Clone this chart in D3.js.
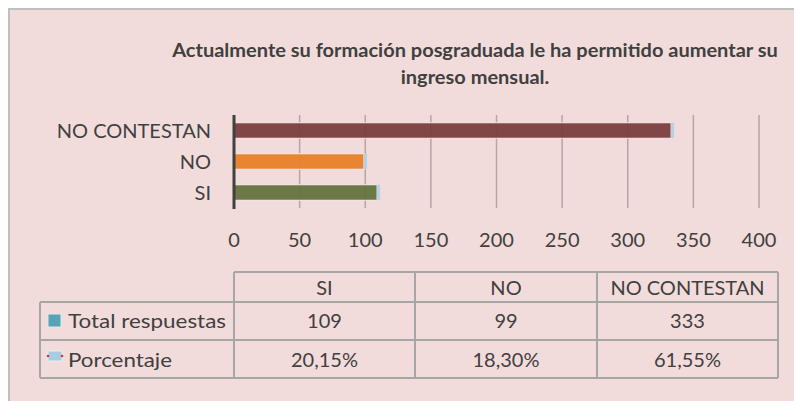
<!DOCTYPE html>
<html>
<meta charset="utf-8">
<title>Ingreso mensual</title>
<style>
  body { margin: 0; background: #fff; }
  svg text { font-family: Lato, "Open Sans", sans-serif; fill: #404040; }
  .grid line { stroke: #b8a4a5; stroke-width: 1.5; }
</style>
<body>
<div id="chart"></div>
<script src="https://cdnjs.cloudflare.com/ajax/libs/d3/7.8.5/d3.min.js"></script>
<script>
// data
var categories = ["SI", "NO", "NO CONTESTAN"];
var totals = [109, 99, 333];
var percents = [20.15, 18.30, 61.55];
var pctLabels = ["20,15%", "18,30%", "61,55%"];
var seriesNames = ["Total respuestas", "Porcentaje"];
var barColors = ["#667340", "#e8812b", "#7b3f3f"];
var xTicks = [0, 50, 100, 150, 200, 250, 300, 350, 400];

var width = 794, height = 401;

var svg = d3.select("#chart").append("svg")
    .attr("width", width)
    .attr("height", height);

// panel background + border
svg.append("rect")
    .attr("x", 9).attr("y", 9)
    .attr("width", 800).attr("height", 400)
    .style("fill", "#f2dcdb")
    .style("stroke", "#bfbfbf")
    .style("stroke-width", 2);

// title: narrow it horizontally so the first line spans ~606px like the original
var titleG = svg.append("g");
var title = titleG.append("text")
    .attr("text-anchor", "middle")
    .style("font-weight", "bold")
    .style("font-size", "19px");
var line1 = title.append("tspan")
    .attr("x", 0).attr("y", 57)
    .text("Actualmente su formación posgraduada le ha permitido aumentar su");
title.append("tspan")
    .attr("x", 0).attr("y", 84)
    .text("ingreso mensual.");
var sx = 606 / line1.node().getComputedTextLength();
titleG.attr("transform", "translate(475,0) scale(" + sx + ",1)");

var x = d3.scaleLinear().domain([0, 400]).range([234, 759]);
var y = d3.scaleBand()
    .domain(categories.slice().reverse())
    .range([115, 208])
    .paddingInner(0.5)
    .paddingOuter(0.25);

// gridlines
svg.append("g").attr("class", "grid")
  .selectAll("line")
    .data(xTicks.slice(1))
  .enter().append("line")
    .attr("x1", function(d) { return x(d); })
    .attr("x2", function(d) { return x(d); })
    .attr("y1", 115).attr("y2", 208);

// bars
var bars = svg.append("g");
categories.forEach(function(c, i) {
  bars.append("rect")
      .attr("x", x(0))
      .attr("y", y(c))
      .attr("width", x(totals[i]) - x(0))
      .attr("height", y.bandwidth())
      .style("fill", barColors[i])
      .style("opacity", 0.95)
      .style("stroke", "#fbeeee")
      .style("stroke-width", 1);
  // percentage series is tiny next to the totals, drawn as a thin cap
  bars.append("rect")
      .attr("x", x(totals[i]))
      .attr("y", y(c))
      .attr("width", Math.max(3, x(percents[i] / 100) - x(0)))
      .attr("height", y.bandwidth())
      .style("fill", "#b4d2e6");
});

// category axis
svg.append("line")
    .attr("x1", x(0)).attr("x2", x(0))
    .attr("y1", 115).attr("y2", 209)
    .style("stroke", "#404040")
    .style("stroke-width", 3);

svg.append("g").selectAll("text")
    .data(categories)
  .enter().append("text")
    .attr("x", 211)
    .attr("y", function(d) { return y(d) + y.bandwidth() / 2 + 7.5; })
    .attr("text-anchor", "end")
    .style("font-size", "20px")
    .text(function(d) { return d; });

// value axis labels
svg.append("g").selectAll("text")
    .data(xTicks)
  .enter().append("text")
    .attr("x", function(d) { return x(d); })
    .attr("y", 247)
    .attr("text-anchor", "middle")
    .style("font-size", "20px")
    .text(function(d) { return d; });

// data table
var colEdges = [40, 234, 415, 597, 778];
var rowEdges = [272, 302, 340, 378];
var tbl = svg.append("g")
    .style("stroke", "#a6a6a6")
    .style("stroke-width", 2);

tbl.append("line").attr("x1", colEdges[1]).attr("x2", colEdges[4]).attr("y1", rowEdges[0]).attr("y2", rowEdges[0]);
[1, 2, 3].forEach(function(r) {
  tbl.append("line").attr("x1", colEdges[0]).attr("x2", colEdges[4]).attr("y1", rowEdges[r]).attr("y2", rowEdges[r]);
});
tbl.append("line").attr("x1", colEdges[0]).attr("x2", colEdges[0]).attr("y1", rowEdges[1]).attr("y2", rowEdges[3]);
[1, 2, 3, 4].forEach(function(c) {
  tbl.append("line").attr("x1", colEdges[c]).attr("x2", colEdges[c]).attr("y1", rowEdges[0]).attr("y2", rowEdges[3]);
});

var cellText = svg.append("g").style("font-size", "20px").attr("text-anchor", "middle");
categories.forEach(function(c, i) {
  var cx = (colEdges[i + 1] + colEdges[i + 2]) / 2;
  cellText.append("text").attr("x", cx).attr("y", 295).text(c);
  cellText.append("text").attr("x", cx).attr("y", 328).text(totals[i]);
  cellText.append("text").attr("x", cx).attr("y", 367).text(pctLabels[i]);
});

// row headers with legend keys
svg.append("rect")
    .attr("x", 48).attr("y", 314)
    .attr("width", 13).attr("height", 13)
    .style("fill", "#5aa3b6")
    .style("stroke", "#d5ecf2")
    .style("stroke-width", 1);
svg.append("rect")
    .attr("x", 48).attr("y", 351)
    .attr("width", 14).attr("height", 10)
    .style("fill", "#a9cde0")
    .style("stroke", "#e4f0f6")
    .style("stroke-width", 1);
[48, 62].forEach(function(px) {
  svg.append("circle").attr("cx", px).attr("cy", 356).attr("r", 1.3).style("fill", "#e03030");
});

var rowLabelWidths = [158, 104];
svg.append("g").style("font-size", "20px").selectAll("text")
    .data(seriesNames)
  .enter().append("text")
    .attr("x", 68)
    .attr("y", function(d, i) { return i === 0 ? 328 : 367; })
    .attr("textLength", function(d, i) { return rowLabelWidths[i]; })
    .attr("lengthAdjust", "spacingAndGlyphs")
    .text(function(d) { return d; });
</script>
</body>
</html>
